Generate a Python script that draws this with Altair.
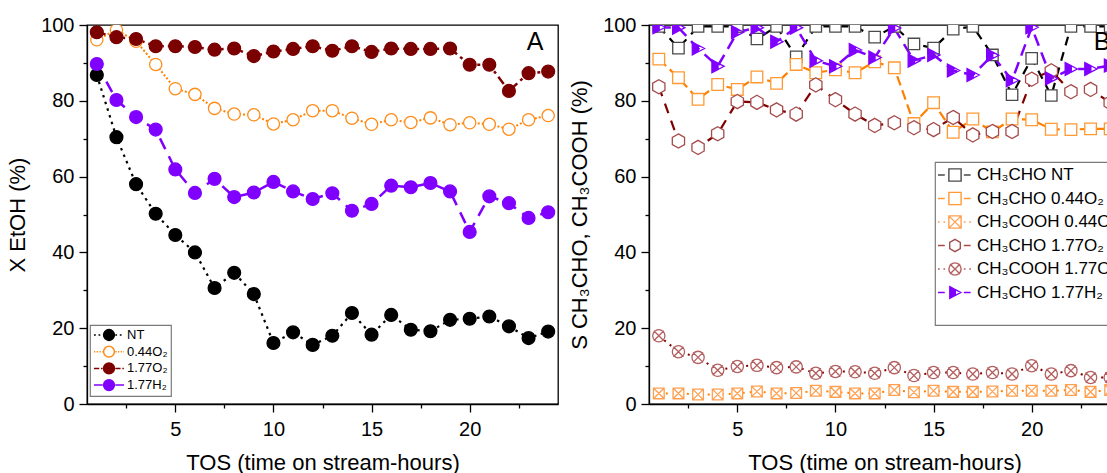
import altair as alt
import pandas as pd

hours = list(range(1, 25))

# ---- Panel A: ethanol conversion X EtOH (%)
conv_nt = [86.8, 70.4, 58.0, 50.2, 44.6, 40.0, 30.6, 34.6, 29.0, 16.1, 18.9, 15.6,
           18.0, 24.0, 18.3, 23.5, 19.6, 19.2, 22.2, 22.5, 23.1, 20.5, 17.4, 19.1]
conv_044o2 = [96.1, 98.7, 95.7, 89.6, 83.2, 81.7, 78.0, 76.5, 76.3, 73.9, 75.0, 77.4,
              77.4, 75.4, 73.8, 75.0, 74.3, 75.5, 73.7, 74.2, 73.8, 72.5, 75.0, 76.1]
conv_177o2 = [98.1, 96.8, 96.3, 94.4, 94.4, 94.2, 93.5, 93.8, 91.8, 93.0, 93.7, 94.4,
              93.2, 94.4, 92.9, 93.8, 93.7, 93.7, 93.8, 89.5, 89.5, 82.6, 87.3, 87.7]
conv_177h2 = [89.7, 80.2, 75.7, 72.4, 61.9, 55.7, 59.4, 54.6, 55.8, 58.6, 56.1, 54.1,
              55.6, 51.0, 52.8, 57.6, 57.2, 58.3, 56.1, 45.4, 54.8, 53.0, 49.1, 50.6]

# ---- Panel B: selectivities (%)
sel_ald_nt = [99.6, 93.9, 99.6, 99.6, 99.6, 96.3, 99.6, 91.6, 99.6, 99.6, 99.6, 96.8,
              99.6, 95.0, 93.9, 98.9, 99.6, 92.1, 81.6, 91.2, 81.4, 99.6, 99.6, 99.6]
sel_ald_044o2 = [91.0, 86.1, 80.4, 84.3, 83.0, 86.3, 84.6, 89.6, 87.4, 88.2, 87.4, 90.3,
                 88.7, 74.0, 79.5, 71.7, 75.2, 71.8, 75.2, 75.0, 72.5, 72.4, 72.6, 72.6]
sel_acid_044o2 = [2.8, 2.8, 2.5, 2.5, 2.8, 3.3, 2.8, 2.9, 3.5, 3.2, 2.8, 2.8,
                  3.7, 3.1, 3.5, 3.2, 3.2, 3.3, 3.5, 3.5, 3.5, 3.7, 3.2, 3.7]
sel_ald_177o2 = [83.7, 69.4, 67.7, 71.3, 79.8, 79.6, 77.6, 76.5, 84.2, 80.3, 76.5, 73.5,
                 74.2, 72.9, 72.4, 75.6, 71.0, 71.9, 71.9, 85.7, 87.9, 82.4, 83.0, 79.5]
sel_acid_177o2 = [18.0, 13.8, 12.3, 8.9, 9.9, 10.2, 9.6, 9.8, 8.1, 8.6, 8.5, 8.1,
                  9.6, 7.5, 8.3, 8.3, 7.9, 8.3, 7.9, 10.1, 7.9, 8.8, 7.0, 7.0]
sel_ald_177h2 = [99.4, 99.3, 93.8, 89.1, 98.1, 99.3, 95.6, 99.3, 90.6, 89.1, 93.4, 91.4,
                 99.2, 90.6, 92.1, 88.0, 86.8, 92.0, 85.4, 99.4, 85.9, 88.4, 88.4, 89.3]

# ---- axis ticks and labels
x_ticks = [2.5, 5, 7.5, 10, 12.5, 15, 17.5, 20, 22.5]
y_ticks = [0, 10, 20, 30, 40, 50, 60, 70, 80, 90, 100]

FONT = "Liberation Sans"
PLOT_W, PLOT_H = 471, 379
PAGE_W, PAGE_H = 1107, 473
# fixed canvas: the origin of panel A's plot area sits at (PAD_LEFT, PAD_TOP)
PAD_LEFT, PAD_TOP = 87, 25


# ---- symbol paths (unit square [-1, 1])
def f(v):
    return f"{v:.3f}"


def stub(x0, x1, dash):
    parts, x, i = [], x0, 0
    while x < x1 - 1e-6:
        seg = dash[i % len(dash)]
        if i % 2 == 0:
            parts.append(f"M{f(x)},0H{f(min(x + seg, x1))}")
        x += seg
        i += 1
    return "".join(parts)


def circle(k):
    return f"M{f(k)},0A{f(k)},{f(k)} 0 1,1 {f(-k)},0A{f(k)},{f(k)} 0 1,1 {f(k)},0Z"


def square(k):
    return f"M{f(-k)},{f(-k)}H{f(k)}V{f(k)}H{f(-k)}Z"


def center_dot(k):
    d = 0.14 * k
    return f"M{f(-d)},0H{f(d)}M0,{f(-d)}V{f(d)}"


def boxed_cross(k):
    return (square(k) + f"M{f(-k)},{f(-k)}L{f(k)},{f(k)}M{f(k)},{f(-k)}L{f(-k)},{f(k)}"
            + center_dot(k))


def hexagon(k):
    pts = [(0, -1), (0.866, -0.5), (0.866, 0.5), (0, 1), (-0.866, 0.5), (-0.866, -0.5)]
    return "M" + "L".join(f"{f(px * k)},{f(py * k)}" for px, py in pts) + "Z"


def circled_cross(k):
    a = 0.82 * k
    return (circle(k) + f"M{f(-a)},{f(-a)}L{f(a)},{f(a)}M{f(a)},{f(-a)}L{f(-a)},{f(a)}"
            + center_dot(k))


def half_triangle(k):
    # right-pointing triangle: left part filled, right part drawn as outline only
    left, half_h, mid, tip = -0.85 * k, 0.95 * k, 0.05 * k, 0.95 * k
    ym = half_h * (tip - mid) / (tip - left)
    filled = (f"M{f(left)},{f(-half_h)}L{f(mid)},{f(-ym)}L{f(mid)},{f(ym)}"
              f"L{f(left)},{f(half_h)}Z")
    outline = (f"M{f(mid)},{f(-ym)}L{f(tip)},0L{f(mid)},{f(ym)}"
               f"L{f(tip)},0L{f(mid)},{f(-ym)}")
    return filled + outline


def legend_symbol(marker, k, gap, dash):
    return stub(-1, -gap, dash) + marker(k) + stub(gap, 1, dash)


# ---- series styles
series_a = [
    dict(name="NT", values=conv_nt, line="#000000", dash=[2.5, 4.5], lw=2.2,
         marker=circle, size=165, fill="#000000", stroke="#000000", ldash=[0.12, 0.18]),
    dict(name="0.44O₂", values=conv_044o2, line="#ff8000", dash=[2, 2], lw=2.0,
         marker=circle, size=150, fill="#ffffff", stroke="#ff8c1a", ldash=[0.09, 0.09]),
    dict(name="1.77O₂", values=conv_177o2, line="#800000", dash=[9, 4, 3, 4], lw=2.5,
         marker=circle, size=165, fill="#7b0000", stroke="#7b0000", ldash=[0.35, 0.12, 0.1, 0.12]),
    dict(name="1.77H₂", values=conv_177h2, line="#8000ff", dash=[12, 8], lw=2.5,
         marker=circle, size=165, fill="#8000ff", stroke="#8000ff", ldash=[3, 0]),
]

series_b = [
    dict(name="CH₃CHO NT", values=sel_ald_nt, line="#000000", dash=[9, 7], lw=2.2,
         marker=square, size=130, fill="#ffffff", stroke="#4a4a4a", ldash=[0.4, 0.12]),
    dict(name="CH₃CHO 0.44O₂", values=sel_ald_044o2, line="#ff8000", dash=[10, 5], lw=2.2,
         marker=square, size=135, fill="#ffffff", stroke="#ff9933", ldash=[0.4, 0.12]),
    dict(name="CH₃COOH 0.44O₂", values=sel_acid_044o2, line="#ff8000", dash=[2, 5], lw=2.0,
         marker=boxed_cross, size=115, fill="#ffffff", stroke="#ffa050", ldash=[0.1, 0.22]),
    dict(name="CH₃CHO 1.77O₂", values=sel_ald_177o2, line="#800000", dash=[10, 8], lw=2.2,
         marker=hexagon, size=200, fill="#ffffff", stroke="#a54b4b", ldash=[0.4, 0.12]),
    dict(name="CH₃COOH 1.77O₂", values=sel_acid_177o2, line="#800000", dash=[2, 5], lw=2.0,
         marker=circled_cross, size=150, fill="#ffffff", stroke="#b45f5f", ldash=[0.1, 0.22]),
    dict(name="CH₃CHO 1.77H₂", values=sel_ald_177h2, line="#8000ff", dash=[12, 7], lw=2.5,
         marker=half_triangle, size=185, fill="#8000ff", stroke="#8000ff", ldash=[0.4, 0.12]),
]

x_scale = alt.Scale(domain=[0.5, 24.5], nice=False, zero=False)
y_scale = alt.Scale(domain=[0, 100], nice=False)

x_axis = alt.Axis(
    title="TOS (time on stream-hours)", values=x_ticks, grid=False,
    labelExpr="datum.value % 5 === 0 ? datum.label : ''",
    tickSize={"expr": "datum.value % 5 === 0 ? 8 : 4"},
    labelOverlap=False, labelFlush=False, labelPadding=7, titlePadding=13,
)


def y_axis(title):
    return alt.Axis(
        title=title, values=y_ticks, grid=False,
        labelExpr="datum.value % 20 === 0 ? datum.label : ''",
        tickSize={"expr": "datum.value % 20 === 0 ? 8 : 4"},
        labelOverlap=False, labelPadding=5, titlePadding=11,
    )


def frame(series, y_title):
    df = pd.concat(
        [pd.DataFrame({"tos": hours, "val": s["values"], "series": s["name"]}) for s in series],
        ignore_index=True,
    )
    enc = dict(
        x=alt.X("tos:Q", scale=x_scale, axis=x_axis),
        y=alt.Y("val:Q", scale=y_scale, axis=y_axis(y_title)),
    )
    lines, points = [], []
    for s in series:
        sub = df[df["series"] == s["name"]]
        lines.append(
            alt.Chart(sub).mark_line(color=s["line"], strokeDash=s["dash"],
                                     strokeWidth=s["lw"], clip=True).encode(**enc)
        )
        points.append(
            alt.Chart(sub).mark_point(shape=s["marker"](1), size=s["size"], filled=True,
                                      fill=s["fill"], stroke=s["stroke"], strokeWidth=1.3,
                                      opacity=1, clip=True).encode(**enc)
        )
    return df, lines + points


def legend_layer(df, series, legend, k, gap, sym_size):
    names = [s["name"] for s in series]
    paths = [legend_symbol(s["marker"], k, gap, s["ldash"]) for s in series]
    strokes = [s["line"] if s["marker"] is circle and s["fill"] != "#ffffff" else s["stroke"]
               for s in series]
    fills = [s["fill"] for s in series]
    return (
        alt.Chart(df).transform_filter("false")
        .mark_point(filled=True, opacity=1, size=sym_size, strokeWidth=1.5)
        .encode(
            shape=alt.Shape("series:N", scale=alt.Scale(domain=names, range=paths), legend=legend),
            stroke=alt.Stroke("series:N", scale=alt.Scale(domain=names, range=strokes), legend=legend),
            fill=alt.Fill("series:N", scale=alt.Scale(domain=names, range=fills), legend=legend),
        )
    )


def panel_letter(letter, x):
    return alt.Chart(pd.DataFrame({"t": [letter]})).mark_text(
        font=FONT, fontSize=25, color="black", align="center", baseline="middle"
    ).encode(text="t:N", x=alt.value(x), y=alt.value(17))


# ---- panel A
df_a, layers_a = frame(series_a, "X EtOH (%)")
legend_a = alt.Legend(
    title=None, orient="none", legendX=3, legendY=300, padding=3,
    strokeColor="#7a7a7a", fillColor="white", labelFont=FONT, labelFontSize=13,
    labelColor="black", symbolSize=900, symbolStrokeWidth=1.5, clipHeight=14,
    rowPadding=2.7, labelOffset=2,
)
panel_a = alt.layer(
    *layers_a,
    legend_layer(df_a, series_a, legend_a, 0.36, 0.42, 900),
    panel_letter("A", PLOT_W - 23),
).properties(width=PLOT_W, height=PLOT_H)

# ---- panel B (its right side runs past the page edge)
df_b, layers_b = frame(series_b, "S CH₃CHO, CH₃COOH (%)")
legend_b = alt.Legend(
    title=" ", titleOrient="bottom", titleFontSize=14, orient="none",
    legendX=286, legendY=137, padding=2,
    strokeColor="#7a7a7a", fillColor="white", labelFont=FONT, labelFontSize=17,
    labelColor="black", symbolSize=1156, symbolStrokeWidth=1.4, clipHeight=22,
    rowPadding=1.5, labelOffset=4,
)
panel_b = alt.layer(
    *layers_b,
    legend_layer(df_b, series_b, legend_b, 0.36, 0.52, 1156),
    panel_letter("B", PLOT_W - 18),
).properties(width=PLOT_W, height=PLOT_H)

chart = (
    alt.hconcat(panel_a, panel_b, spacing=8)
    .resolve_scale(shape="independent", stroke="independent", fill="independent")
    .properties(
        autosize=alt.AutoSizeParams(type="none"),
        padding={"left": PAD_LEFT, "top": PAD_TOP,
                 "right": PAGE_W - PAD_LEFT, "bottom": PAGE_H - PAD_TOP},
    )
    .configure_view(stroke="black", strokeWidth=1.3)
    .configure_axis(
        domainColor="black", domainWidth=1.3, tickColor="black", tickWidth=1.3,
        labelFont=FONT, labelFontSize=20, labelColor="black",
        titleFont=FONT, titleFontSize=22, titleFontWeight="normal", titleColor="black",
    )
    .configure_legend(strokeWidth=1.2)
)

chart.save("out.html", embed_options={"renderer": "svg", "actions": False})
